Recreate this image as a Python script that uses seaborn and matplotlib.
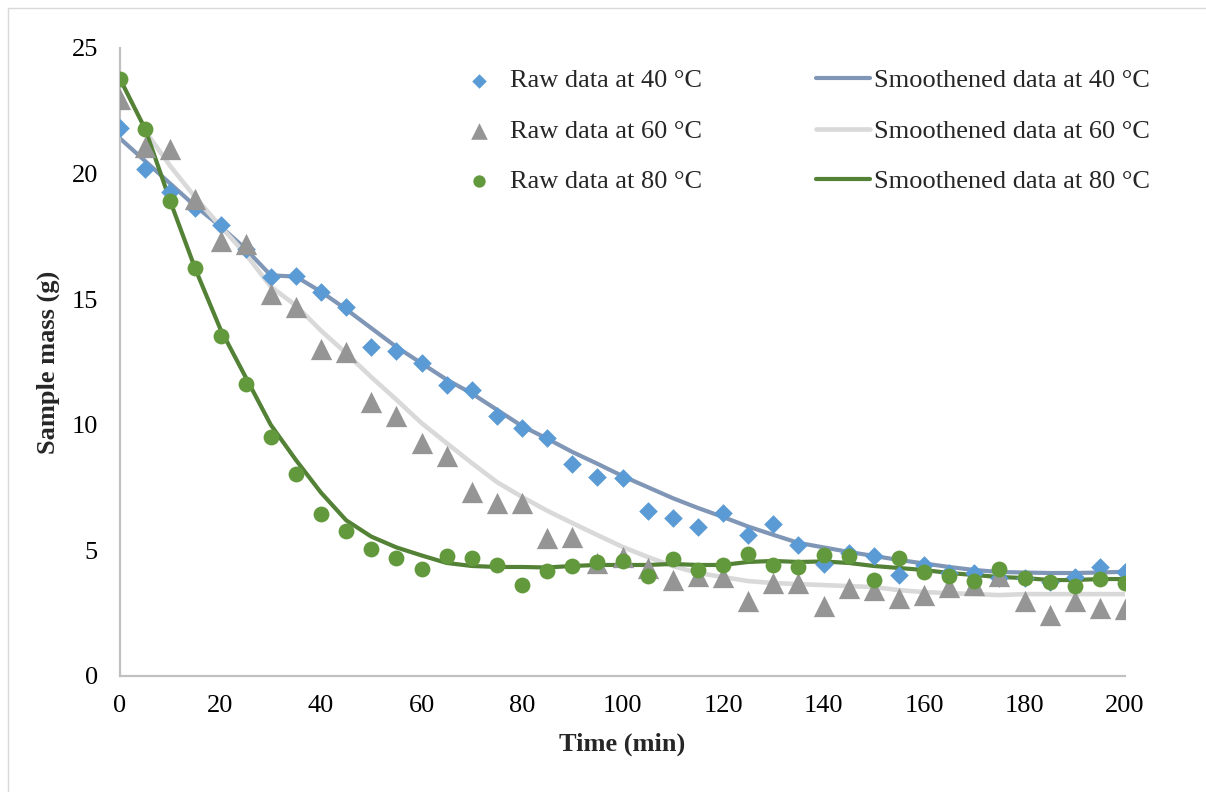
import numpy as np
import pandas as pd
import matplotlib
matplotlib.use("Agg")
import matplotlib.pyplot as plt
from matplotlib.patches import Rectangle
import seaborn as sns

# ---------------- data ----------------
time_min = list(range(0, 205, 5))

raw_40 = [21.8, 20.2, 19.25, 18.62, 17.95, 17.0, 15.9, 15.93, 15.3, 14.7,
          13.1, 12.95, 12.45, 11.6, 11.4, 10.35, 9.86, 9.47, 8.43, 7.93,
          7.9, 6.57, 6.28, 5.93, 6.5, 5.6, 6.07, 5.2, 4.45, 4.9,
          4.78, 4.02, 4.4, 4.1, 4.1, 3.9, 3.9, 3.75, 3.95, 4.33, 4.15]

raw_60 = [22.95, 21.06, 20.98, 19.0, 17.3, 17.2, 15.2, 14.7, 13.0, 12.9,
          10.9, 10.35, 9.27, 8.76, 7.32, 6.89, 6.87, 5.5, 5.52, 4.5,
          4.74, 4.3, 3.82, 4.0, 3.95, 2.99, 3.7, 3.7, 2.79, 3.5,
          3.42, 3.1, 3.22, 3.54, 3.62, 4.0, 2.98, 2.43, 2.98, 2.7, 2.66]

raw_80 = [23.77, 21.78, 18.9, 16.24, 13.54, 11.62, 9.5, 8.04, 6.45, 5.77,
          5.05, 4.7, 4.26, 4.78, 4.68, 4.4, 3.64, 4.18, 4.38, 4.54,
          4.58, 3.98, 4.66, 4.22, 4.42, 4.86, 4.42, 4.34, 4.8, 4.78,
          3.82, 4.7, 4.14, 3.98, 3.78, 4.26, 3.9, 3.74, 3.58, 3.86, 3.7]

smooth_40 = [21.4, 20.5, 19.6, 18.7, 17.9, 17.0, 15.95, 15.9, 15.3, 14.6,
             13.85, 13.1, 12.45, 11.8, 11.25, 10.6, 9.95, 9.45, 8.92, 8.45,
             7.96, 7.52, 7.08, 6.69, 6.33, 5.95, 5.62, 5.3, 5.12, 4.94,
             4.78, 4.62, 4.48, 4.34, 4.22, 4.14, 4.12, 4.1, 4.1, 4.12, 4.15]

smooth_60_time = list(range(5, 205, 5))
smooth_60 = [21.7, 20.3, 19.05, 17.9, 16.8, 15.5, 14.75, 13.75, 12.85,
             11.9, 11.0, 10.07, 9.27, 8.48, 7.72, 7.13, 6.58, 6.09, 5.61,
             5.14, 4.74, 4.38, 4.1, 3.94, 3.78, 3.7, 3.66, 3.62, 3.58,
             3.54, 3.42, 3.34, 3.3, 3.26, 3.22, 3.26, 3.26, 3.26, 3.26, 3.26]

smooth_80 = [23.77, 21.78, 18.9, 16.2, 13.8, 11.9, 10.0, 8.6, 7.3, 6.2,
             5.55, 5.12, 4.8, 4.5, 4.38, 4.34, 4.34, 4.32, 4.38, 4.42,
             4.42, 4.42, 4.46, 4.42, 4.42, 4.54, 4.58, 4.54, 4.56, 4.5,
             4.38, 4.3, 4.22, 4.1, 4.02, 3.94, 3.9, 3.82, 3.82, 3.86, 3.86]

x_ticks = [0, 20, 40, 60, 80, 100, 120, 140, 160, 180, 200]
y_ticks = [0, 5, 10, 15, 20, 25]

labels_raw = ["Raw data at 40 °C", "Raw data at 60 °C", "Raw data at 80 °C"]
labels_smooth = ["Smoothened data at 40 °C", "Smoothened data at 60 °C",
                 "Smoothened data at 80 °C"]

# ---------------- style ----------------
sns.set_style("white")
plt.rcParams["font.family"] = ["Liberation Serif", "DejaVu Serif"]
FS = 19

W, H = 1206, 792
fig = plt.figure(figsize=(W / 100, H / 100), dpi=100)
ax = fig.add_axes([120 / W, 1 - 676 / H, (1125 - 120) / W, (676 - 48) / H])

c_d = "#5B9BD5"
c_t = "#959595"
c_c = "#63993D"
c_l40 = "#7F96B6"
c_l60 = "#D9D9D9"
c_l80 = "#538135"

df40 = pd.DataFrame({"t": time_min, "v": smooth_40})
df60 = pd.DataFrame({"t": smooth_60_time, "v": smooth_60})
df80 = pd.DataFrame({"t": time_min, "v": smooth_80})

sns.lineplot(data=df40, x="t", y="v", ax=ax, color=c_l40, lw=3.0,
             label=labels_smooth[0], zorder=2, sort=False)
sns.lineplot(data=df60, x="t", y="v", ax=ax, color=c_l60, lw=3.3,
             label=labels_smooth[1], zorder=2, sort=False)
sns.lineplot(data=df80, x="t", y="v", ax=ax, color=c_l80, lw=3.0,
             label=labels_smooth[2], zorder=2, sort=False)

sns.scatterplot(x=time_min, y=raw_40, ax=ax, marker="D", s=90, color=c_d,
                linewidth=0, label=labels_raw[0], zorder=3)
sns.scatterplot(x=time_min, y=raw_60, ax=ax, marker="^", s=235, color=c_t,
                linewidth=0, label=labels_raw[1], zorder=3)
sns.scatterplot(x=time_min, y=raw_80, ax=ax, marker="o", s=130, color=c_c,
                linewidth=0, label=labels_raw[2], zorder=4)

ax.set_xlim(0, 200)
ax.set_ylim(0, 25)
ax.set_xticks(x_ticks)
ax.set_yticks(y_ticks)
ax.tick_params(axis="both", length=0, labelsize=FS, colors="black")
ax.tick_params(axis="x", pad=14)
ax.tick_params(axis="y", pad=16)
for s in ["top", "right"]:
    ax.spines[s].set_visible(False)
for s in ["left", "bottom"]:
    ax.spines[s].set_color("#C0C0C0")
    ax.spines[s].set_linewidth(1.6)
ax.grid(False)

ax.set_xlabel("Time (min)", fontsize=FS, fontweight="bold")
ax.set_ylabel("Sample mass (g)", fontsize=FS, fontweight="bold")
ax.xaxis.set_label_coords(0.5, (676 - 733) / 628)
ax.yaxis.set_label_coords((60 - 120) / 1005, 0.5)

# legend: raw markers column first, then smoothed lines
h, l = ax.get_legend_handles_labels()
order = [labels_raw[0], labels_raw[1], labels_raw[2],
         labels_smooth[0], labels_smooth[1], labels_smooth[2]]
hm = dict(zip(l, h))
ax.legend([hm[k] for k in order], order, ncol=2, frameon=False,
          fontsize=FS, loc="upper left",
          bbox_to_anchor=(452 / W, 1 - 69 / H), bbox_transform=fig.transFigure,
          borderpad=0, borderaxespad=0, handlelength=2.05, handletextpad=0.15,
          columnspacing=4.3, labelspacing=1.02, markerscale=0.78)

# outer light frame (partially cropped in the reference)
fig.add_artist(Rectangle((8 / W, -0.05), 1.0, 1.05 - 7.5 / H,
                         transform=fig.transFigure, fill=False,
                         edgecolor="#D9D9D9", lw=1.0, clip_on=False))

fig.savefig("out.png", dpi=100, facecolor="white")
